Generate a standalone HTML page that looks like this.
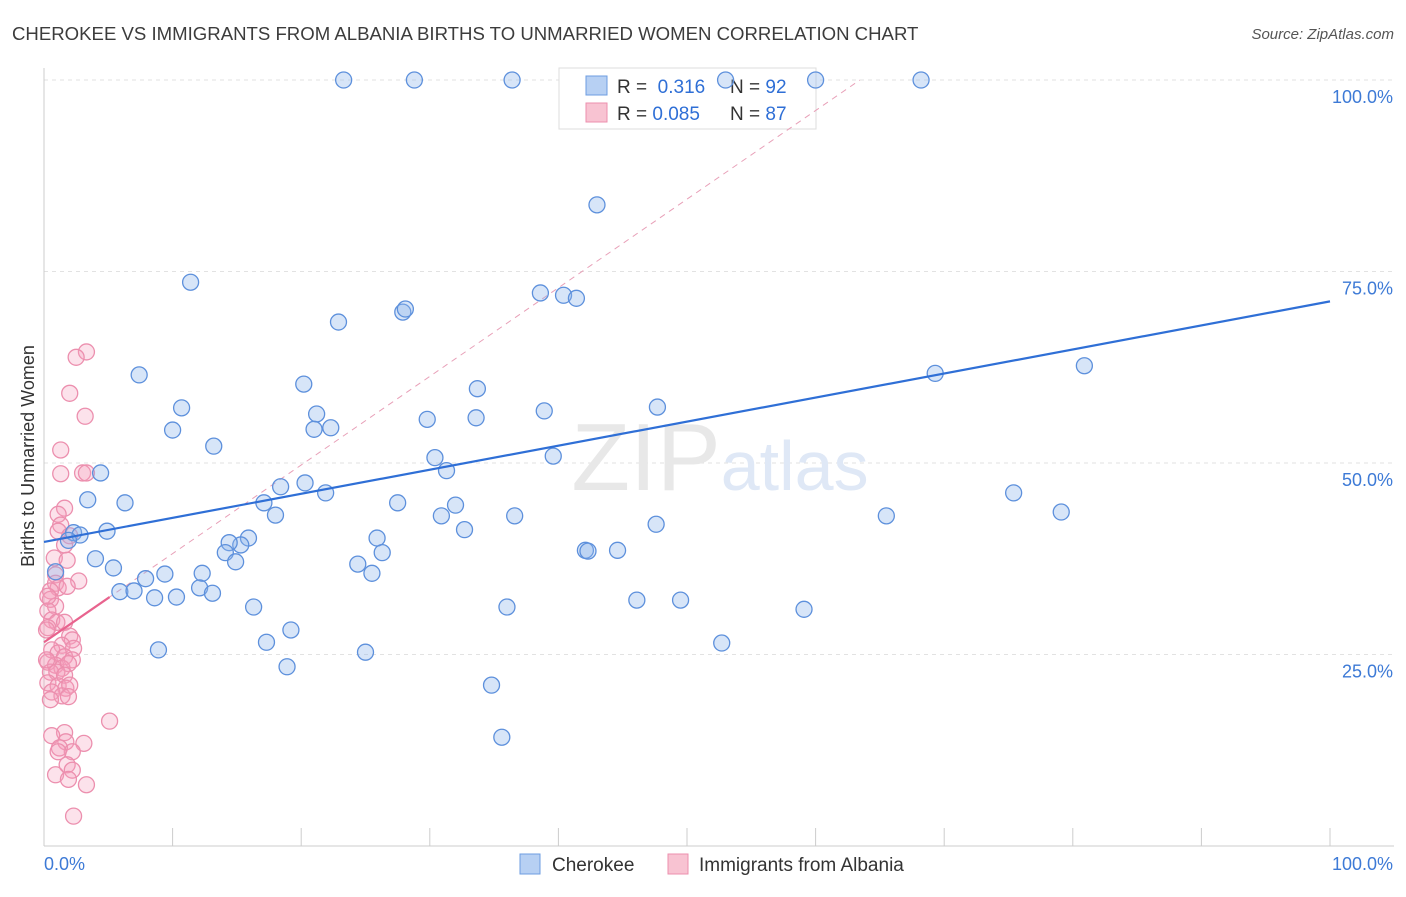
<!DOCTYPE html>
<html><head><meta charset="utf-8"><style>
body{margin:0;background:#fff;font-family:"Liberation Sans",sans-serif;}
svg text{font-family:"Liberation Sans",sans-serif;}
</style></head><body>
<svg id="chart" width="1406" height="892" viewBox="0 0 1406 892" xmlns="http://www.w3.org/2000/svg">
<text x="12" y="40" font-size="18.6" fill="#3c3c3c">CHEROKEE VS IMMIGRANTS FROM ALBANIA BIRTHS TO UNMARRIED WOMEN CORRELATION CHART</text>
<text x="1394" y="39" font-size="15" fill="#555" text-anchor="end" font-style="italic">Source: ZipAtlas.com</text>
<g id="grid"></g>
<text x="720" y="490" font-size="96" text-anchor="middle" fill="#e8e8e8" font-family="Liberation Serif">ZIP<tspan fill="#dfe8f6" font-family="Liberation Sans" font-size="70">atlas</tspan></text>
<g>
<rect x="559" y="68" width="257" height="61" fill="#fff" stroke="#ddd"/>
<rect x="586" y="76" width="21" height="19" fill="#b7d0f3" stroke="#6d9de0"/>
<rect x="586" y="103" width="21" height="19" fill="#f8c3d2" stroke="#ec8fae"/>
<text x="617" y="93" font-size="19" fill="#333">R = <tspan fill="#2f6fd6">&#160;0.316</tspan><tspan x="730">N = </tspan><tspan fill="#2f6fd6">92</tspan></text>
<text x="617" y="120" font-size="19" fill="#333">R = <tspan fill="#2f6fd6">0.085</tspan><tspan x="730">N = </tspan><tspan fill="#2f6fd6">87</tspan></text>
</g>
<g id="marks"></g>
<text transform="translate(34,456) rotate(-90)" font-size="18" fill="#333" text-anchor="middle">Births to Unmarried Women</text>
<g>
<rect x="520" y="854" width="20" height="20" fill="#b7d0f3" stroke="#6d9de0"/>
<text x="552" y="871" font-size="19" fill="#333">Cherokee</text>
<rect x="668" y="854" width="20" height="20" fill="#f8c3d2" stroke="#ec8fae"/>
<text x="699" y="871" font-size="19" fill="#333">Immigrants from Albania</text>
</g>
</svg>
<script>
const blueX=[23.3,28.8,36.4,53.0,60.0,68.2,43.0,11.4,22.9,27.9,28.1,38.6,40.4,41.4,7.4,20.2,33.7,80.9,69.3,10.7,21.2,10.0,21.0,22.3,29.8,33.6,38.9,47.7,13.2,4.4,30.4,31.3,39.6,3.4,6.3,18.4,20.3,17.1,21.9,27.5,32.0,75.4,79.1,65.5,18.0,30.9,36.6,32.7,47.6,4.9,2.3,2.8,1.9,15.9,25.9,15.3,14.4,14.1,26.3,42.1,42.3,44.6,14.9,4.0,5.4,24.4,25.5,9.4,12.3,7.9,5.9,7.0,8.6,10.3,12.1,13.1,16.3,46.1,49.5,36.0,59.1,19.2,17.3,8.9,25.0,52.7,18.9,34.8,35.6,0.9];
const blueY=[100,100,100,100,100,100,83.7,73.6,68.4,69.7,70.1,72.2,71.9,71.5,61.5,60.3,59.7,62.7,61.7,57.2,56.4,54.3,54.4,54.6,55.7,55.9,56.8,57.3,52.2,48.7,50.7,49.0,50.9,45.2,44.8,46.9,47.4,44.8,46.1,44.8,44.5,46.1,43.6,43.1,43.2,43.1,43.1,41.3,42.0,41.1,40.9,40.6,39.9,40.2,40.2,39.3,39.6,38.3,38.3,38.6,38.5,38.6,37.1,37.5,36.3,36.8,35.6,35.5,35.6,34.9,33.2,33.3,32.4,32.5,33.7,33.0,31.2,32.1,32.1,31.2,30.9,28.2,26.6,25.6,25.3,26.5,23.4,21.0,14.2,35.8];
const pinkX=[3.3,2.5,2.0,3.2,1.3,1.3,3.0,3.3,1.6,1.1,1.3,1.1,2.0,1.6,0.8,1.8,2.7,0.9,0.9,1.1,1.8,0.5,0.5,0.9,0.3,0.6,1.0,1.6,0.3,2.0,2.2,1.4,2.3,0.6,1.1,1.6,2.2,0.3,0.9,1.4,1.9,0.5,1.0,1.6,0.3,1.1,1.7,2.0,0.6,1.4,1.9,0.5,5.1,1.6,0.6,1.7,3.1,1.2,2.2,1.1,1.8,0.9,2.2,1.9,3.3,2.3,0.3,0.2,0.2];
const pinkY=[64.5,63.8,59.1,56.1,51.7,48.6,48.7,48.7,44.1,43.3,41.9,41.1,40.5,39.3,37.6,37.3,34.6,35.4,34.3,33.7,33.9,33.3,32.2,31.3,30.7,29.5,29.2,29.2,28.5,27.4,26.9,26.2,25.8,25.6,25.2,24.7,24.3,24.0,23.6,23.2,23.8,22.7,22.7,22.3,21.3,20.9,20.6,21.0,20.1,19.6,19.5,19.1,16.3,14.8,14.4,13.6,13.4,12.8,12.3,12.3,10.6,9.3,9.9,8.7,8.0,3.9,32.6,28.2,24.3];
const blueTrend=[39.7,71.1];
const pinkTrend=[26.6,32.5,5.1];
const yTicks=[25,50,75,100];
const yTickLabels=["25.0%","50.0%","75.0%","100.0%"];
const NS="http://www.w3.org/2000/svg";
const sx=v=>44+v*12.86, sy=v=>846-v*7.66;
function mk(tag,attrs,parent){const e=document.createElementNS(NS,tag);for(const k in attrs)e.setAttribute(k,attrs[k]);parent.appendChild(e);return e;}
const grid=document.getElementById('grid'),marks=document.getElementById('marks');
yTicks.forEach((t,i)=>{
 const l=mk('line',{x1:44,x2:1394,y1:sy(t),y2:sy(t),stroke:'#e2e2e2','stroke-dasharray':'4,4'},grid);
 
 
 const tx=mk('text',{x:1393,y:sy(t)+23,'font-size':18,fill:'#3d7ad6','text-anchor':'end'},grid);
 tx.textContent=yTickLabels[i];
 
 
});
const ax=mk('line',{x1:44,x2:44,y1:68,y2:846,stroke:'#ccc'},grid);


const bx=mk('line',{x1:44,x2:1394,y1:846,y2:846,stroke:'#ccc'},grid);


for(let i=0;i<=10;i++){const t=mk('line',{x1:sx(i*10),x2:sx(i*10),y1:828,y2:846,stroke:'#ccc'},grid);
 
 }
[["0.0%",44,'start'],["100.0%",1393,'end']].forEach(a=>{const t=mk('text',{x:a[1],y:870,'font-size':18,fill:'#3d7ad6','text-anchor':a[2]},grid);t.textContent=a[0];
 
 });
const slope=(pinkTrend[1]-pinkTrend[0])/pinkTrend[2];
const xEnd=(100-pinkTrend[0])/slope;
const pd=mk('line',{x1:sx(0),y1:sy(pinkTrend[0]),x2:sx(xEnd),y2:sy(100),stroke:'#e8a0b8','stroke-dasharray':'6,5','stroke-width':1},marks);


pinkX.forEach((x,i)=>{const c=mk('circle',{cx:sx(x),cy:sy(pinkY[i]),r:8,fill:'rgba(244,160,188,0.3)',stroke:'#ec8fae','stroke-width':1.3},marks);
 
 });
blueX.forEach((x,i)=>{const c=mk('circle',{cx:sx(x),cy:sy(blueY[i]),r:8,fill:'rgba(140,180,235,0.35)',stroke:'#5d90dc','stroke-width':1.3},marks);
 
 });
const bt=mk('line',{x1:sx(0),y1:sy(blueTrend[0]),x2:sx(100),y2:sy(blueTrend[1]),stroke:'#2f6fd6','stroke-width':2.2},marks);


const pt=mk('line',{x1:sx(0),y1:sy(pinkTrend[0]),x2:sx(pinkTrend[2]),y2:sy(pinkTrend[1]),stroke:'#e8638e','stroke-width':2.2},marks);


</script>
</body></html>
